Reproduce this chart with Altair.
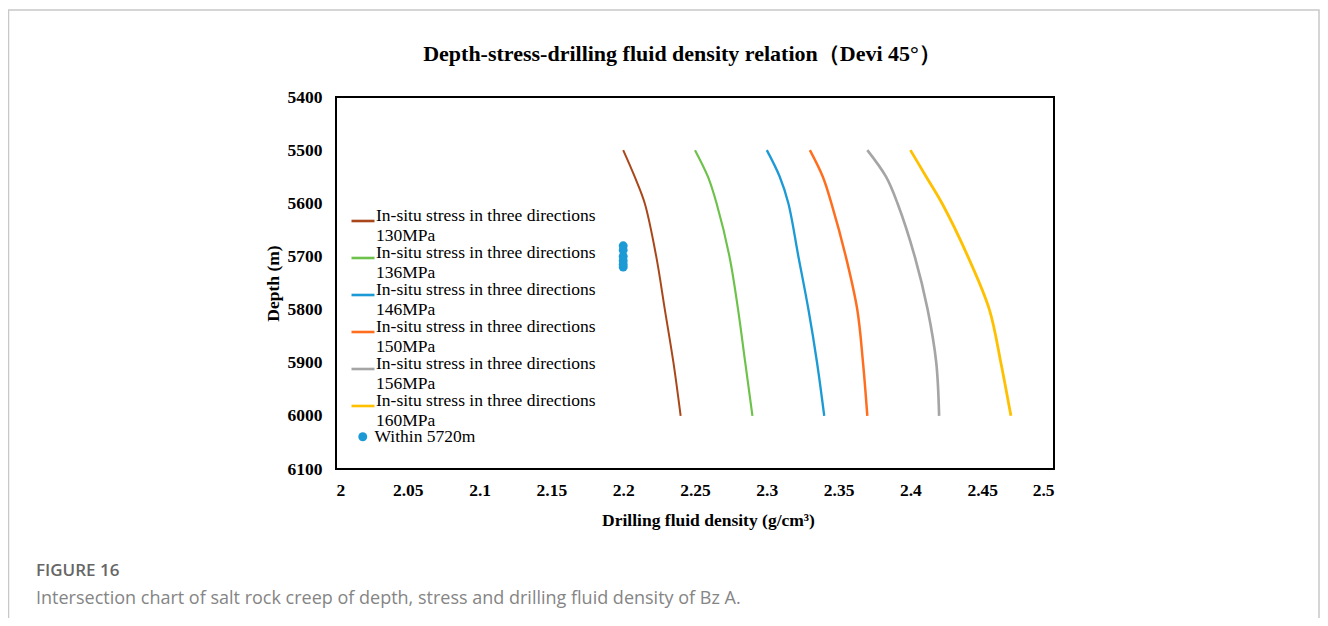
import altair as alt
import pandas as pd

# ---------------- data ----------------
depths = [5500, 5550, 5600, 5700, 5800, 5900, 6000]
s130 = [2.200, 2.208, 2.215, 2.223, 2.229, 2.235, 2.240]
s136 = [2.250, 2.259, 2.265, 2.274, 2.280, 2.285, 2.290]
s146 = [2.300, 2.309, 2.315, 2.322, 2.329, 2.335, 2.340]
s150 = [2.330, 2.339, 2.345, 2.355, 2.363, 2.367, 2.370]
s156 = [2.370, 2.383, 2.391, 2.403, 2.412, 2.418, 2.420]
s160 = [2.400, 2.411, 2.422, 2.440, 2.455, 2.463, 2.470]

stress_labels = ["130MPa", "136MPa", "146MPa", "150MPa", "156MPa", "160MPa"]
series_prefix = "In-situ stress in three directions"
series_colors = ["#A9471B", "#6CC24A", "#1C9AD6", "#FF6E1F", "#A5A5A5", "#FFC000"]
series_widths = [2.0, 2.8, 2.8, 2.8, 2.8, 2.8]

point_depths = [5680, 5688, 5700, 5708, 5715, 5720]
point_density = [2.2, 2.2, 2.2, 2.2, 2.2, 2.2]
point_label = "Within 5720m"
point_color = "#1C9AD6"

x_ticks = [2.0, 2.05, 2.1, 2.15, 2.2, 2.25, 2.3, 2.35, 2.4, 2.45, 2.5]
y_ticks = [5400, 5500, 5600, 5700, 5800, 5900, 6000, 6100]

title_text = "Depth-stress-drilling fluid density relation\uff08Devi 45\u00b0\uff09"
x_title = "Drilling fluid density (g/cm\u00b3)"
y_title = "Depth (m)"
fig_label = "FIGURE 16"
fig_caption = "Intersection chart of salt rock creep of depth, stress and drilling fluid density of Bz A."

# ---------------- tables ----------------
series_values = [s130, s136, s146, s150, s156, s160]
names = [series_prefix + "|" + s for s in stress_labels]
rows = []
for name, vals in zip(names, series_values):
    for d, v in zip(depths, vals):
        rows.append({"series": name, "depth": d, "density": v})
lines_df = pd.DataFrame(rows)
pts_df = pd.DataFrame({"depth": point_depths, "density": point_density,
                       "label": [point_label] * len(point_depths)})

SERIF = "Liberation Serif"
FS = 17.5

x_enc = alt.X("density:Q",
              scale=alt.Scale(domain=[2.0, 2.5], nice=False, zero=False),
              axis=alt.Axis(values=x_ticks, labelExpr="format(datum.value, '.2~f')",
                            ticks=False, domain=False, grid=False,
                            labelFont=SERIF, labelFontWeight="bold", labelFontSize=FS,
                            labelColor="black", labelPadding=12,
                            title=x_title, titleFont=SERIF, titleFontWeight="bold",
                            titleFontSize=FS, titleColor="black", titlePadding=13,
                            titleX=372))
y_enc = alt.Y("depth:Q",
              scale=alt.Scale(domain=[5400, 6100], reverse=True, nice=False, zero=False),
              axis=alt.Axis(values=y_ticks, format="d", ticks=False, domain=False, grid=False,
                            labelFont=SERIF, labelFontWeight="bold", labelFontSize=FS,
                            labelColor="black", labelPadding=14,
                            title=y_title, titleFont=SERIF, titleFontWeight="bold",
                            titleFontSize=FS, titleColor="black", titlePadding=5))

lines = alt.Chart(lines_df).mark_line(interpolate="catmull-rom").encode(
    x=x_enc,
    y=y_enc,
    order=alt.Order("depth:Q"),
    strokeWidth=alt.StrokeWidth("series:N",
                                scale=alt.Scale(domain=names, range=series_widths),
                                legend=None),
    color=alt.Color("series:N",
                    scale=alt.Scale(domain=names, range=series_colors),
                    legend=alt.Legend(orient="none", legendX=14, legendY=111, title=None,
                                      symbolType="stroke", symbolSize=529,
                                      symbolStrokeWidth=2.6,
                                      labelFont=SERIF, labelFontSize=FS,
                                      labelColor="black", labelLimit=500,
                                      labelExpr="split(datum.label, '|')",
                                      labelBaseline="alphabetic", labelOffset=0,
                                      rowPadding=0)),
)

points = alt.Chart(pts_df).mark_point(filled=True, size=80, color=point_color, opacity=1).encode(
    x=alt.X("density:Q"),
    y=alt.Y("depth:Q"),
    shape=alt.Shape("label:N",
                    scale=alt.Scale(domain=[point_label], range=["circle"]),
                    legend=alt.Legend(orient="none", legendX=18, legendY=331, title=None,
                                      symbolFillColor=point_color, symbolStrokeColor=point_color,
                                      symbolSize=80, symbolOpacity=1,
                                      labelFont=SERIF, labelFontSize=FS,
                                      labelColor="black", labelOffset=3)),
)

one = alt.Data(values=[{}])

card = alt.Chart(one).mark_rect(fill="transparent", stroke="#c8c8c8", strokeWidth=1.5).encode(
    x=alt.value(-327.5), x2=alt.value(983), y=alt.value(-87), y2=alt.value(600))

title_mark = alt.Chart(one).mark_text(align="center", baseline="alphabetic", font=SERIF,
                                      fontSize=22, fontWeight="bold", color="black").encode(
    x=alt.value(346), y=alt.value(-36), text=alt.value(title_text))

cap1 = alt.Chart(one).mark_text(align="left", baseline="alphabetic", font="Open Sans",
                                fontSize=17, fontWeight=600, color="#666666").encode(
    x=alt.value(-300), y=alt.value(479), text=alt.value(fig_label))
cap2 = alt.Chart(one).mark_text(align="left", baseline="alphabetic", font="Open Sans",
                                fontSize=18, color="#858585").encode(
    x=alt.value(-300), y=alt.value(507), text=alt.value(fig_caption))

chart = alt.layer(card, lines, points, title_mark, cap1, cap2).properties(
    width=718, height=372,
    autosize=alt.AutoSizeParams(type="none"),
    padding={"left": 328, "top": 89, "right": 266, "bottom": 149},
).resolve_legend(color="independent", shape="independent").configure_view(
    stroke="black", strokeWidth=2
)

chart.save("out.html", embed_options={"renderer": "svg", "actions": False})
